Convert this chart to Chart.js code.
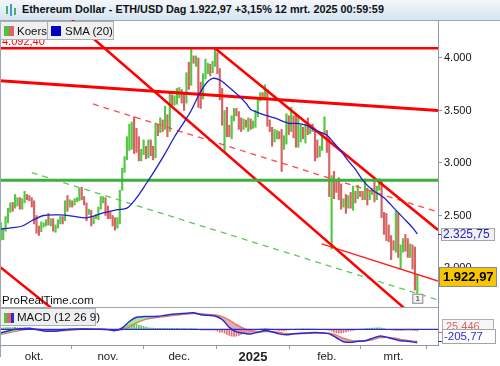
<!DOCTYPE html>
<html><head><meta charset="utf-8">
<script src="https://cdn.jsdelivr.net/npm/chart.js@4.4.1/dist/chart.umd.min.js"></script>
<style>
html,body{margin:0;padding:0;background:#fff;width:500px;height:366px;overflow:hidden;font-family:Arial,"Liberation Sans",sans-serif;}
#title{position:absolute;left:0;top:0;width:500px;height:21px;box-sizing:border-box;background:linear-gradient(#f3f7fb,#d6e4f1);border-bottom:1px solid #9aa6b2;}
#title b{position:absolute;left:22px;top:3px;font-size:10.85px;color:#111;white-space:nowrap;}
.ico{position:absolute;top:4px;width:2px;}
.leg{position:absolute;height:19px;line-height:19px;box-sizing:border-box;background:#efefef;border:1px solid #a9b0b6;font-size:11.5px;color:#111;white-space:nowrap;}
.sw{position:absolute;top:4px;width:10px;height:10px;}
canvas{position:absolute;left:0;}
</style></head><body>
<div id="title">
<span class="ico" style="left:6px;height:8px;top:6px;background:#3cb371"></span>
<span class="ico" style="left:10px;height:12px;background:#5a8fd0"></span>
<span class="ico" style="left:14px;height:7px;top:8px;background:#3cb371"></span>
<b>Ethereum Dollar - ETH/USD Dag 1.922,97 +3,15% 12 mrt. 2025 00:59:59</b></div>
<canvas id="c1" width="500" height="288" style="top:20px"></canvas>
<canvas id="c2" width="500" height="58" style="top:308px"></canvas>
<div class="leg" style="left:0;top:21px;width:48px;"><span class="sw" style="left:3px;width:5px;background:#4cc43c"></span><span class="sw" style="left:8px;width:5px;background:#e06464"></span><span style="position:absolute;left:16px">Koers</span></div>
<div class="leg" style="left:47px;top:21px;width:67px;"><span class="sw" style="left:3px;background:#0000c0"></span><span style="position:absolute;left:17px">SMA (20)</span></div>
<div class="leg" style="left:0;top:308px;width:96px;height:18px;line-height:17px;"><span class="sw" style="left:3px;width:3px;background:#4cc43c"></span><span class="sw" style="left:6px;width:4px;background:#e06464"></span><span class="sw" style="left:10px;width:3px;background:#2b2bd6"></span><span style="position:absolute;left:16px">MACD (12 26 9)</span></div>
<script>
// ---------- DATA (day index 0 = 17 sep 2024) ----------
const monthTickDays   = [14, 45, 75, 106, 137, 165];
const monthTickLabels = ['okt.', 'nov.', 'dec.', '2025', 'feb.', 'mrt.'];
const priceTicks = [2000, 2500, 3000, 3500, 4000];

const barHigh = [
 2430,2380,2490,2570,2620,2625,2700,2670,2670,2660,
 2730,2700,2690,2670,2640,2500,2400,2440,2430,2460,
 2520,2470,2470,2410,2460,2490,2490,2640,2690,2650,
 2640,2660,2670,2760,2770,2680,2620,2560,2550,2490,
 2510,2580,2680,2680,2670,2590,2530,2500,2480,2480,
 2740,2950,3060,3250,3370,3390,3440,3330,3250,3130,
 3220,3160,3220,3220,3160,3380,3370,3430,3410,3540,
 3460,3680,3650,3640,3710,3720,3700,3660,3860,3960,
 4085,4020,4020,4000,3770,3850,3990,3950,3940,3970,
 4092,4050,3900,3710,3500,3530,3360,3450,3520,3520,
 3490,3430,3420,3410,3430,3420,3400,3500,3620,3670,
 3670,3745,3700,3410,3340,3320,3310,3300,3320,3260,
 3470,3450,3530,3450,3460,3450,3360,3340,3370,3430,
 3360,3370,3310,3220,3160,3280,3440,3310,3240,2880,
 2920,2830,2860,2800,2660,2700,2690,2720,2780,2730,
 2790,2730,2730,2850,2760,2730,2760,2850,2780,2850,
 2830,2530,2520,2410,2310,2260,2540,2520,2220,2280,
 2320,2280,2230,2220,2200,1935];
const barLow = [
 2265,2270,2350,2430,2530,2540,2570,2590,2560,2560,
 2620,2650,2640,2580,2420,2330,2310,2345,2390,2400,
 2410,2400,2350,2340,2380,2420,2420,2450,2540,2580,
 2580,2600,2630,2640,2650,2600,2450,2510,2400,2420,
 2470,2460,2560,2620,2500,2470,2470,2400,2360,2380,
 2420,2740,2910,3030,3120,3130,3090,3100,3020,3020,
 3080,3040,3050,3070,3030,3050,3260,3290,3300,3320,
 3250,3300,3550,3550,3560,3620,3570,3500,3570,3700,
 3740,3950,3920,3530,3520,3610,3800,3850,3830,3860,
 3920,3850,3600,3360,3100,3250,3250,3230,3400,3450,
 3320,3300,3320,3340,3300,3320,3330,3340,3440,3590,
 3600,3600,3350,3300,3160,3200,3230,3230,2920,3130,
 3180,3270,3300,3240,3150,3150,3200,3230,3190,3270,
 3280,3300,3020,3050,3060,3120,3270,3100,2680,2180,
 2660,2720,2650,2560,2580,2520,2570,2570,2550,2620,
 2660,2680,2650,2650,2600,2650,2700,2630,2650,2740,
 2480,2320,2260,2250,2080,2170,2150,2100,1990,2150,
 2160,2100,2100,1990,1790,1745];
const barUp = [
 1,1,1,1,1,0,1,1,0,1, 1,0,0,0,0,0,0,1,1,1, 0,1,0,1,1,1,0,1,0,1,
 0,1,1,1,0,0,0,1,0,1, 1,1,1,1,0,0,0,0,0,1, 1,1,1,1,1,1,0,0,0,1,
 1,0,1,0,0,1,0,1,0,1, 0,1,0,1,1,1,0,0,1,0, 1,0,1,0,0,1,1,1,0,1,
 1,0,0,0,1,0,0,1,1,0, 0,0,1,0,1,0,1,1,1,1, 0,1,0,0,0,1,1,0,0,1,
 1,0,1,0,0,1,1,0,1,0, 1,0,0,0,1,1,1,0,0,1, 0,0,0,0,1,0,1,0,1,0,
 1,0,0,1,0,1,1,0,1,1, 0,0,0,0,0,0,1,0,1,1, 0,0,1,0,0,1];
const lastClose = 1922.97;

const smaDays = [0,5,9,13,18,25,30,36,43,49,53,57,61,65,69,73,77,80,83,86,89,92,96,100,103,105,107,111,115,121,124,128,132,137,140,143,146,149,152,156,161,165,169,173,175];
const smaVals = [2371,2385,2400,2450,2500,2505,2495,2478,2524,2555,2570,2667,2800,2940,3090,3250,3390,3500,3640,3750,3805,3790,3720,3640,3570,3510,3490,3457,3430,3378,3378,3362,3314,3265,3190,3110,3020,2940,2840,2745,2670,2575,2480,2385,2325.75];

// drawn support / resistance lines: [day, price] end points
const topLevel = 4092.40;
const greenLevel = 2835;
const channelUpper   = [[90, 4092.4], [183.7, 2362]];
const channelLower   = [[29.9, 4362], [183.7, 1339]];
const channelLower2  = [[-0.34, 2010], [24.9, 1552]];
const resistanceSlow = [[-0.34, 3784], [183.7, 3500]];
const dashedRed      = [[38.7, 3562], [183.7, 2533]];
const dashedGreen    = [[13.0, 2908], [183.7, 1695]];
const thinRed        = [[134.8, 2229], [183.7, 1876]];

const macdDays = [0,3,6,9,12,15,18,21,24,27,30,33,36,39,42,45,48,51,54,57,60,63,66,69,72,75,78,81,84,87,90,93,96,99,102,105,108,111,114,117,120,123,126,129,132,135,138,141,144,147,150,153,156,159,162,165,168,171,174,175];
const macdVals = [-55,-25,0,10,15,-5,-25,-28,-25,-10, 0,5,5,0,0,-5,-20,20,120,185, 195,195,200,215,230,240,245,255,225,215, 205,150,30,-40,-60,-72,-45,-20,-40,-70, -85,-70,-60,-55,-50,-55,-70,-130,-190,-200, -185,-175,-140,-105,-120,-150,-175,-185,-200,-205.77];
const signalVals = [-75,-55,-30,-10,5,5,-8,-18,-22,-18, -10,0,3,3,1,-2,-10,-5,40,100, 145,170,185,198,212,225,235,243,238,228, 218,195,140,70,15,-25,-40,-35,-36,-50, -65,-70,-66,-61,-56,-55,-61,-90,-140,-170, -180,-178,-160,-130,-122,-135,-155,-172,-186,-180.32];
const histVals = [
 20,22,25,27,28,28, 30,25,22,20,18,15,12,8,2, -8,-15,-20,-22,-20,-18,
 -12,-10,-6,-3,2,6,8, 10,10,9,8,6,5,3,2, 2,1,0,-1,-2,-2,-3,-3,-4,
 -5,-7,-9,-11,-12,-8, 25,45,65,80,85,80, 75,65,55,45,35,25,20,18,
 15,15,14,14,14,15,16,16,15,14, 13,12,11,10,10,11,12,8,0,
 -12,-15,-14,-13,-12,-13,-15,-30,-45, -45,-60,-80,-95,-105,-110,-105,-95,-80,
 -65,-55,-45,-35,-25,-15,-5,5,10, 15,10,2,-5,-10,-15,-20,-22,-20,
 -18,-10,-3,0,3,5,6,6,6, 6,6,5,4,2,0,-1,-4,-8,
 -15,-30,-45,-55,-60,-55,-50,-40,-30, -25,-18,-10,-5,2,5,8,12,16,
 20,22,24,25,20,10,0,-5,-10, -15,-18,-20,-20,-18,-15,-14,-15,-17,-20,-25.446];

// ---------- helpers ----------
const X_MIN = -0.34, X_MAX = 183.7;
const FONT = 'Arial, "Liberation Sans", sans-serif';
Chart.defaults.font.family = FONT;
function nl(v, dec){
  const s = Math.abs(v).toFixed(dec); let [i,f] = s.split('.');
  i = i.replace(/\B(?=(\d{3})+(?!\d))/g,'.');
  return (v<0?'-':'') + i + (f ? ','+f : '');
}
const pts = arr => arr.map(p => ({x:p[0], y:p[1]}));
function lineDs(points, color, width, dash){
  return {type:'line', data: pts(points), borderColor: color, borderWidth: width, borderDash: dash||[],
          pointRadius:0, fill:false, tension:0, order:1};
}
function noPad(s){ s.paddingTop = 0; s.paddingBottom = 0; s.paddingLeft = 0; s.paddingRight = 0; }
const GREEN = '#55c843', RED = '#d86262';
const days = barHigh.map((_, i) => i);

// ---------- main chart ----------
const mainLabels = {
  id:'mainLabels',
  afterDraw(chart){
    const {ctx, chartArea:a, scales:{x, y}} = chart;
    ctx.save();
    ctx.strokeStyle = '#9aa5b0'; ctx.lineWidth = 1;
    ctx.beginPath();
    ctx.moveTo(a.left+0.5, a.top); ctx.lineTo(a.left+0.5, a.bottom);
    ctx.moveTo(a.left, a.bottom-0.5); ctx.lineTo(a.right, a.bottom-0.5);
    ctx.stroke();
    // top level label
    ctx.font = '11px ' + FONT; ctx.fillStyle = '#ff0000'; ctx.textBaseline = 'bottom'; ctx.textAlign='left';
    ctx.fillText(nl(topLevel,2), a.left+2, y.getPixelForValue(topLevel)-1);
    // watermark
    ctx.fillStyle = '#111'; ctx.font = '11.5px ' + FONT;
    ctx.fillText('ProRealTime.com', a.left+2, a.bottom-1);
    // event marker
    const lx = x.getPixelForValue(days[days.length-1]), ly = y.getPixelForValue(barLow[barLow.length-1]);
    ctx.fillStyle = '#f4f4f4'; ctx.strokeStyle = '#8a8a8a';
    ctx.fillRect(lx-5, ly-1, 11, 10); ctx.strokeRect(lx-4.5, ly-0.5, 10, 9);
    ctx.fillStyle = '#666'; ctx.font = 'bold 8px ' + FONT; ctx.textAlign='center'; ctx.textBaseline='middle';
    ctx.fillText('1', lx+0.5, ly+4.5);
    // SMA value box
    const sv = smaVals[smaVals.length-1], sy = Math.round(y.getPixelForValue(sv));
    ctx.fillStyle = '#f1f1f1'; ctx.fillRect(a.right+3, sy-6, 54, 13);
    ctx.strokeStyle = '#a4a4a4'; ctx.strokeRect(a.right+3.5, sy-5.5, 53, 12);
    ctx.strokeStyle = '#2020c0'; ctx.beginPath(); ctx.moveTo(a.right, sy+0.5); ctx.lineTo(a.right+3, sy+0.5); ctx.stroke();
    ctx.fillStyle = '#2222bb'; ctx.font = '12px ' + FONT; ctx.textAlign='left'; ctx.textBaseline='middle';
    ctx.fillText(nl(sv,2), a.right+5, sy+1);
    // last price box
    const cy = Math.round(y.getPixelForValue(lastClose));
    ctx.fillStyle = '#f7c600'; ctx.fillRect(a.right+1, cy-9, 58, 20);
    ctx.strokeStyle = '#8a8a8a'; ctx.strokeRect(a.right+1.5, cy-8.5, 57, 19);
    ctx.fillStyle = '#000'; ctx.font = 'bold 13px ' + FONT;
    ctx.fillText(nl(lastClose,2), a.right+5, cy+1.5);
    ctx.restore();
  }
};

new Chart(document.getElementById('c1'), {
  type:'bar',
  data:{ datasets:[
    {type:'bar', data: days.map(i => ({x:i, y:[barLow[i], barHigh[i]]})),
     backgroundColor: barUp.map(u => u ? GREEN : RED), barThickness:1.5, order:10},
    lineDs([[X_MIN, greenLevel],[X_MAX, greenLevel]], '#3cb03c', 3),
    lineDs([[X_MIN, topLevel],[X_MAX, topLevel]], '#ff0000', 2.5),
    lineDs(resistanceSlow, '#ff0000', 3),
    lineDs(channelUpper, '#ff0000', 2.5),
    lineDs(channelLower, '#ff0000', 2.5),
    lineDs(channelLower2, '#ff0000', 2.5),
    lineDs(dashedRed, '#ff4a4a', 1.3, [6,5]),
    lineDs(dashedGreen, '#5cc85c', 1.3, [6,5]),
    lineDs(thinRed, '#ff2020', 1.3),
    {type:'line', data: smaDays.map((d,i)=>({x:d, y:smaVals[i]})), borderColor:'#1f1fc8', borderWidth:1.3,
     pointRadius:0, fill:false, tension:0.3, order:0}
  ]},
  options:{
    responsive:false, animation:false, events:[],
    layout:{padding:0, autoPadding:false},
    plugins:{legend:{display:false}, tooltip:{enabled:false}},
    scales:{
      x:{type:'linear', min:X_MIN, max:X_MAX, display:false, offset:false},
      y:{position:'right', min:1619, max:4361.9,
         afterBuildTicks: s => { s.ticks = priceTicks.map(v => ({value:v})); },
         afterFit: s => { s.width = 62; noPad(s); },
         grid:{drawOnChartArea:false, tickLength:4, color:'#8c99a6'},
         border:{display:true, color:'#8c99a6'},
         ticks:{padding:2, color:'#111', font:{size:11}, callback: v => nl(v,0)}
      }
    }
  },
  plugins:[mainLabels]
});

// ---------- MACD chart ----------
const macdLabels = {
  id:'macdLabels',
  afterDraw(chart){
    const {ctx, chartArea:a, scales:{y}} = chart;
    ctx.save();
    ctx.strokeStyle = '#9aa5b0'; ctx.lineWidth = 1;
    ctx.beginPath();
    ctx.moveTo(a.left+0.5, a.top); ctx.lineTo(a.left+0.5, a.bottom+12);
    ctx.stroke();
    const my = Math.min(Math.round(y.getPixelForValue(macdVals[macdVals.length-1])), a.bottom-9);
    // histogram label (partly hidden)
    ctx.fillStyle = '#f6f6f6'; ctx.fillRect(a.right+4, my-17, 52, 13);
    ctx.strokeStyle = '#b0b0b0'; ctx.strokeRect(a.right+4.5, my-16.5, 51, 12);
    ctx.fillStyle = '#e06060'; ctx.font = '11px ' + FONT; ctx.textBaseline='middle';
    ctx.fillText(nl(histVals[histVals.length-1],3).replace('-',''), a.right+8, my-9);
    // MACD label
    ctx.fillStyle = '#ffffff'; ctx.fillRect(a.right+4, my-7, 54, 15);
    ctx.strokeStyle = '#a4a4a4'; ctx.strokeRect(a.right+4.5, my-6.5, 53, 14);
    ctx.fillStyle = '#2b2bd6'; ctx.font = '11.5px ' + FONT;
    ctx.fillText(nl(macdVals[macdVals.length-1],2), a.right+6, my+1);
    ctx.strokeStyle = '#e06060'; ctx.beginPath(); ctx.moveTo(a.right, my-3.5); ctx.lineTo(a.right+4, my-3.5); ctx.stroke();
    ctx.strokeStyle = '#2b2bd6'; ctx.beginPath(); ctx.moveTo(a.right, my+5.5); ctx.lineTo(a.right+4, my+5.5); ctx.stroke();
    ctx.restore();
  }
};

new Chart(document.getElementById('c2'), {
  type:'bar',
  data:{ datasets:[
    {type:'bar', data: days.map(i => ({x:i, y:histVals[i]})),
     backgroundColor: histVals.map(v => v >= 0 ? '#5cc84a' : '#e07070'), barThickness:1, order:5},
    {type:'line', data: macdDays.map((d,i)=>({x:d, y:macdVals[i]})), borderColor:'#2b2bd6', borderWidth:1.5,
     pointRadius:0, tension:0.3, order:2,
     fill:{target:2, above:'rgba(140,225,120,0.75)', below:'rgba(235,140,140,0.75)'}},
    {type:'line', data: macdDays.map((d,i)=>({x:d, y:signalVals[i]})), borderColor:'#e06a6a', borderWidth:1.5,
     pointRadius:0, tension:0.3, fill:false, order:3},
    {type:'line', data:[{x:X_MIN, y:0},{x:X_MAX, y:0}], borderColor:'#2b2bd6', borderWidth:1.2,
     pointRadius:0, fill:false, order:1}
  ]},
  options:{
    responsive:false, animation:false, events:[],
    layout:{padding:0, autoPadding:false},
    plugins:{legend:{display:false}, tooltip:{enabled:false}},
    scales:{
      x:{type:'linear', min:X_MIN, max:X_MAX, offset:false,
         afterBuildTicks: s => { s.ticks = monthTickDays.map(v => ({value:v})); },
         afterFit: s => { s.height = 21; noPad(s); },
         grid:{drawOnChartArea:false, tickLength:4, color:'#8c99a6'},
         border:{display:true, color:'#8c99a6'},
         ticks:{autoSkip:false, maxRotation:0, padding:1, color:'#222',
                font: c => (c.tick && c.tick.value === 106) ? {size:13, weight:'bold'} : {size:11.5},
                callback: v => monthTickLabels[monthTickDays.indexOf(v)] }
      },
      y:{position:'right', min:-241, max:327,
         afterFit: s => { s.width = 62; noPad(s); },
         grid:{display:false},
         border:{display:true, color:'#8c99a6'},
         ticks:{display:false}
      }
    }
  },
  plugins:[macdLabels]
});
</script>
</body></html>
